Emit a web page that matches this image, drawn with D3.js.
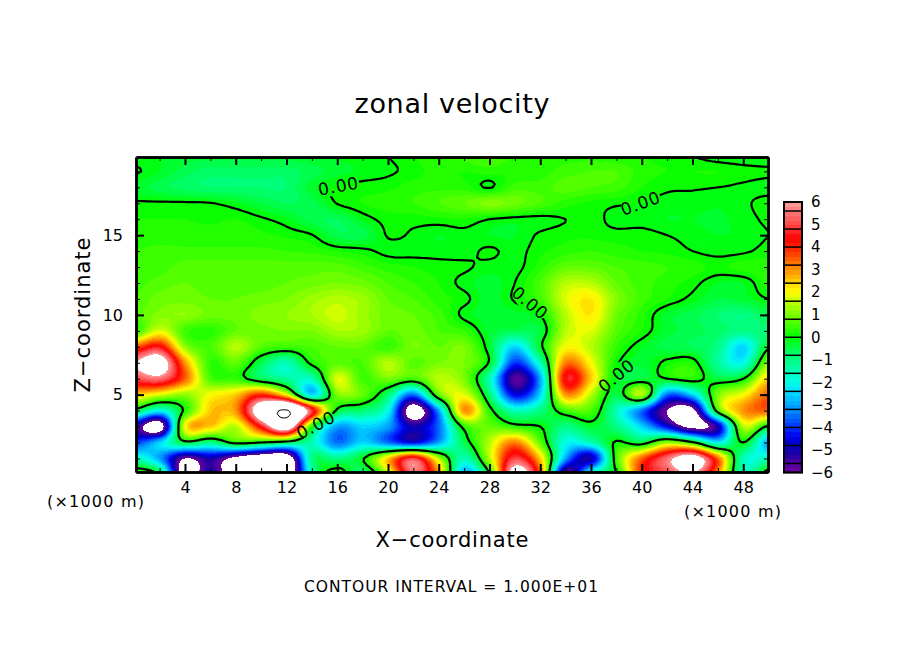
<!DOCTYPE html>
<html><head><meta charset="utf-8">
<script src="https://cdn.jsdelivr.net/npm/d3@7"></script>
<style>
html,body{margin:0;padding:0;background:#fff}
text{font-family:"DejaVu Sans",sans-serif;fill:#000}
</style></head><body>
<svg id="c" width="904" height="654"></svg>
<script>
// grid sampling of the field
const gridX = d3.range(0, 51, 2);           // km/1000
const gridZ = d3.range(0, 21, 1);
// one row per z = 0..20, one value per x = 0,2,..,50
const uRows = [
/*z0*/ [0.8,-0.3,-7,-5,-7.5,-8,-8,-1.5,0.4,-1,1.5,5.5,3,-3,0,7,3.5,-6,-1.5,0,4,5,6,3,-1.5,0.5],
/*z1*/ [-1.5,-3,-6,-5,-6.5,-7.5,-7.5,-1,-1,-0.1,2.5,5,1.5,-1.5,1.5,5,2.5,-3,-5,0.5,3.5,5.5,7,3.5,-1.5,-1.5],
/*z2*/ [-4,-2.5,-0.3,-1,0.3,0,-0.5,-1.5,-3.5,-2.5,-3.5,-4.5,-3,-0.5,1.5,3.2,0.8,-2,-1.5,0.1,-0.4,1.2,0.2,-2.2,0,-3],
/*z3*/ [-5,-7,2,2.5,1.5,4.5,7.5,0.2,-3,-2.5,-3,-5,-3.5,0.3,0.8,0.3,0,-1,-0.3,-1,-2.5,-4.5,-6.5,-5,1.5,-0.2],
/*z4*/ [-0.3,-2,0.2,2.5,3,7.5,10.2,5,-0.2,-0.8,-2,-7,-3,3,0.3,-1.5,-1,0.5,0.6,-1.5,-3.5,-6,-6.5,0.5,3,3.5],
/*z5*/ [2.5,1.8,1.2,2,2.5,4,2,-2.5,1,0.8,-0.8,-3.5,0.8,1.8,-0.8,-4.5,-2.5,3,1.5,-0.5,1.5,-3.5,-2.5,1,2,3.5],
/*z6*/ [5,5.5,3.5,0.6,0.4,-0.6,-1.2,-1.5,1.8,0.5,1,0.5,1.5,1,-1.5,-5.7,-3,4.5,2.5,-0.2,-0.4,0,0.3,-0.4,0,2.5],
/*z7*/ [6,7,3,0.4,0.8,-0.5,-1.5,0.2,0.7,0.6,1.5,0.7,1,1,-0.1,-4,-1.5,3.2,2,0.1,-0.3,0.1,0.2,-1.2,-2,1.2],
/*z8*/ [3.5,4.5,1.2,0.6,1.5,0.7,0.5,0.6,0.8,0.8,0.4,1,0.8,1,-0.3,-2.5,-0.2,2,1.5,0.4,-0.2,-0.5,-0.6,-1,-2.5,-0.1],
/*z9*/ [0.3,1.8,0.5,0.3,0.8,0.9,1,1,1.4,1.3,0.8,0.9,0.6,0.4,-0.3,-0.5,-0.4,1.5,1.8,0.7,0.2,-0.3,-0.5,-0.7,-1,-0.8],
/*z10*/[0.7,1.1,1.2,0.9,0.9,1.1,1.2,1.4,1.7,1.3,0.9,0.8,0.5,-0.1,-0.3,-0.3,0,1.5,2.2,0.9,0.3,-0.3,-0.5,-0.8,-1,-0.5],
/*z11*/[0.6,0.9,0.9,0.8,0.8,0.9,1,1.3,1.5,1.3,0.8,0.6,0.3,0.1,-0.3,0.05,0.5,1.8,2.2,1.1,0.5,0.2,-0.1,-0.4,-0.3,0],
/*z12*/[0.5,0.7,0.8,0.7,0.7,0.7,0.8,0.9,1,0.9,0.6,0.4,0.2,-0.1,-0.3,0,0.6,1.5,1.5,0.8,0.5,0.3,0.1,-0.2,-0.2,0.3],
/*z13*/[0.4,0.5,0.7,0.7,0.7,0.7,0.7,0.7,0.7,0.5,0.3,0.2,0.1,0.05,-0.1,-0.1,0.3,0.8,0.8,0.6,0.5,0.4,0.3,0.15,0.3,0.3],
/*z14*/[0.4,0.45,0.45,0.45,0.45,0.45,0.4,0.35,0.2,0.1,-0.1,-0.1,-0.1,-0.1,0.05,-0.1,0.15,0.3,0.4,0.3,0.2,0.15,0,-0.1,-0.05,0.1],
/*z15*/[0.3,0.3,0.3,0.3,0.3,0.25,0.15,0.02,-0.5,-0.5,0.03,-0.05,-0.2,-0.1,-0.2,-0.2,0.05,0.15,0.15,0.1,0.1,0,-0.1,-0.2,-0.15,0],
/*z16*/[0.2,0.2,0.2,0.15,0.2,0.05,-0.15,-0.5,-0.6,-0.15,0.1,0.1,0.15,0.2,0,-0.1,-0.1,0,0.1,-0.1,-0.1,-0.2,-0.2,-0.25,-0.1,0.05],
/*z17*/[0.05,0.05,0.05,0.02,-0.15,-0.4,-0.6,-0.5,0.02,0.2,0.3,0.4,0.6,0.8,1.1,0.9,0.6,0.3,0.15,0.05,0,-0.1,-0.1,-0.15,-0.05,0.1],
/*z18*/[-0.3,-0.5,-0.7,-0.8,-0.8,-0.8,-0.8,-0.25,0.05,0.1,0.15,0.3,0.35,0.3,-0.03,0.5,0.5,0.7,0.6,0.5,0.2,0.05,0.03,0,-0.05,-0.1],
/*z19*/[0.05,-0.2,-0.5,-0.7,-0.7,-0.7,-0.7,-0.5,-0.3,-0.15,-0.05,0.1,0.3,0.2,0.3,0.2,0.3,0.5,0.6,0.6,0.3,0.2,0.2,0.2,0.1,0.05],
/*z20*/[-0.2,-0.2,-0.3,-0.3,-0.3,-0.3,-0.3,-0.2,-0.15,-0.1,0,0.2,0.4,0.5,0.7,0.4,0.4,0.3,0.3,0.2,0.2,0.1,0,-0.15,-0.2,-0.2]
];
const xTicksMajor = d3.range(4, 49, 4);
const xTicksMinor = d3.range(2, 50, 2);
const zTicksMajor = [5, 10, 15];
const zTicksMinor = d3.range(1, 20, 1);
const barTicks = d3.range(-6, 7, 1);
const barEdges = [-6,-5.6,-4.8,-4,-3.2,-2.4,-1.6,-0.8,0,0.8,1.6,2.4,3.2,4,4.8,5.6,6];
const colorStops = [-6,-5.6,-5.2,-4.8,-4.4,-4,-3.6,-3.2,-2.8,-2.4,-2,-1.6,-1.2,-0.8,-0.4,0,0.4,0.8,1.2,1.6,2,2.4,2.8,3.2,3.6,4,4.4,4.8,5.2,5.6,6];
const colorVals = ["#7000a0","#5000a0","#2000a0","#0000c0","#0000f0","#0030ff","#0060ff","#0090ff","#00b8ff","#00e0ff","#00ffe8","#00ffc0","#00ff98","#00ff70","#00ff40","#00ff00","#30ff00","#60ff00","#90ff00","#c0ff00","#ffff00","#ffd800","#ffa800","#ff8000","#ff5000","#ff2000","#ff0000","#ff3030","#ff5858","#ff7878","#ffa0a0"];
const step = 0.2;
const levels = d3.range(-6, 6.001, step).map(v => +v.toFixed(2));
const labelSpots = [
  {x:16.1,z:18.08,a:-10},{x:39.9,z:17.0,a:-20},{x:31.2,z:10.75,a:40},{x:38.0,z:6.2,a:-40},{x:14.3,z:3.1,a:-27}
];
const labelText = "0.00";

const svg = d3.select("#c");
const x = d3.scaleLinear().domain([0.14,49.95]).range([136,768]);
const z = d3.scaleLinear().domain([0.15,19.9]).range([472,157]);
const color = d3.scaleLinear().domain(colorStops).range(colorVals).interpolate(d3.interpolateRgb);

// resample the read values for drawing (Catmull-Rom)
const cr=(a,b,c,d,t)=>0.5*((2*b)+(-a+c)*t+(2*a-5*b+4*c-d)*t*t+(-a+3*b-3*c+d)*t*t*t);
const fx=8, fz=5; // samples per grid cell
const nx=(gridX.length-1)*fx+1, nz=(gridZ.length-1)*fz+1;
const at=(r,c)=>uRows[Math.max(0,Math.min(gridZ.length-1,r))][Math.max(0,Math.min(gridX.length-1,c))];
const field=new Float64Array(nx*nz);
for(let j=0;j<nz;j++){
  const r=Math.floor(j/fz), tz=j/fz-r;
  for(let i=0;i<nx;i++){
    const c=Math.floor(i/fx), tx=i/fx-c;
    const col=[-1,0,1,2].map(k=>cr(at(r+k,c-1),at(r+k,c),at(r+k,c+1),at(r+k,c+2),tx));
    field[j*nx+i]=cr(col[0],col[1],col[2],col[3],tz);
  }
}
const cont=d3.contours().size([nx,nz]).smooth(true);
const px=d=>x((d-0.5)*2/fx), pz=d=>z((d-0.5)/fz);
const tr=d3.geoTransform({point(a,b){this.stream.point(px(a),pz(b));}});
const path=d3.geoPath(tr);

const defs=svg.append("defs");
defs.append("clipPath").attr("id","plot").append("rect")
  .attr("x",x.range()[0]).attr("y",z.range()[1]).attr("width",632).attr("height",315);
const mask=defs.append("mask").attr("id","gaps").attr("maskUnits","userSpaceOnUse")
  .attr("x",0).attr("y",0).attr("width",904).attr("height",654);
mask.append("rect").attr("width",904).attr("height",654).attr("fill","#fff");
mask.selectAll("ellipse").data(labelSpots).join("ellipse")
  .attr("rx",21).attr("ry",10).attr("fill","#000")
  .attr("transform",d=>`translate(${x(d.x)},${z(d.z)}) rotate(${d.a})`);

const g=svg.append("g").attr("clip-path","url(#plot)");
g.append("rect").attr("x",136).attr("y",157).attr("width",632).attr("height",315).attr("fill","#fff");
g.selectAll("path.f").data(levels.slice(0,-1).map(l=>({l,c:cont.contour(field,l)}))).join("path")
  .attr("class","f").attr("d",d=>path(d.c)).attr("fill",d=>color(d.l+step/2)).attr("shape-rendering","crispEdges");
// regions above the top level go back to white
g.append("path").attr("d",path(cont.contour(field,6))).attr("fill","#fff").attr("shape-rendering","crispEdges");
// contour lines
g.append("path").attr("d",path(cont.contour(field,10))).attr("fill","none").attr("stroke","#000").attr("stroke-width",1);
g.append("g").attr("mask","url(#gaps)").append("path").attr("d",path(cont.contour(field,0)))
  .attr("fill","none").attr("stroke","#000").attr("stroke-width",2.2).attr("stroke-linejoin","round");
// labels
svg.selectAll("text.lab").data(labelSpots).join("text").attr("class","lab")
  .attr("transform",d=>`translate(${x(d.x)},${z(d.z)}) rotate(${d.a})`)
  .attr("text-anchor","middle").attr("dy","0.36em").attr("font-size",17).attr("letter-spacing",0.8).text(labelText);

// axes
const style=(s,w)=>{s.selectAll(".tick line").attr("stroke","#000").attr("stroke-width",w);
  s.selectAll(".domain").attr("stroke","#000").attr("stroke-width",2.5);
  s.selectAll("text").attr("fill","#000").attr("font-size",16).attr("font-family",'"DejaVu Sans",sans-serif');};
const ax=(fn,scale,ticks,len,pos,lab)=>{
  const a=fn(scale).tickValues(ticks).tickSize(len).tickSizeOuter(0).tickPadding(lab?(fn===d3.axisBottom?10:13):0)
    .tickFormat(lab?d3.format("d"):"");
  const s=svg.append("g").attr("transform",pos).call(a);
  s.selectAll("text").filter(function(){return !lab;}).remove();
  style(s,len===-8||len===8?2:1);
  return s;
};
ax(d3.axisBottom,x,xTicksMinor,-4,"translate(0,472)",false);
ax(d3.axisTop,x,xTicksMinor,-4,"translate(0,157)",false);
ax(d3.axisLeft,z,zTicksMinor,-4,"translate(136,0)",false);
ax(d3.axisRight,z,zTicksMinor,-4,"translate(768,0)",false);
ax(d3.axisBottom,x,xTicksMajor,-8,"translate(0,472)",true);
ax(d3.axisTop,x,xTicksMajor,-8,"translate(0,157)",false);
ax(d3.axisLeft,z,zTicksMajor,-8,"translate(136,0)",true);
ax(d3.axisRight,z,zTicksMajor,-8,"translate(768,0)",false);

// colour bar
const by=d3.scaleLinear().domain([-6,6]).range([472.5,202]);
const bar=svg.append("g");
const fine=d3.range(-6,5.999,0.2).map(v=>+v.toFixed(2));
bar.selectAll("rect.s").data(fine).join("rect").attr("class","s")
  .attr("x",784).attr("width",18).attr("y",d=>by(d+0.2)).attr("height",by(-6)-by(-5.8)+0.5)
  .attr("fill",d=>color(d+0.1)).attr("shape-rendering","crispEdges");
bar.selectAll("line.e").data(barEdges).join("line").attr("class","e")
  .attr("x1",783).attr("x2",803).attr("y1",d=>by(d)).attr("y2",d=>by(d))
  .attr("stroke","#000").attr("stroke-width",1.5);
bar.append("rect").attr("x",784).attr("y",202).attr("width",18).attr("height",270.5)
  .attr("fill","none").attr("stroke","#000").attr("stroke-width",2);
const ba=svg.append("g").attr("transform","translate(802,0)")
  .call(d3.axisRight(by).tickValues(barTicks).tickSize(0).tickPadding(9).tickFormat(d3.format("d")));
ba.select(".domain").remove();
ba.selectAll("text").attr("fill","#000").attr("font-size",15).attr("font-family",'"DejaVu Sans",sans-serif');

// texts
const T=(t,xx,yy,size,len,rot)=>svg.append("text").text(t).attr("font-size",size)
  .attr("text-anchor","middle").attr("textLength",len).attr("lengthAdjust","spacing")
  .attr("transform",`translate(${xx},${yy})`+(rot?` rotate(${rot})`:""));
T("zonal velocity",452,113,27,195);
T("X\u2212coordinate",452,547,21,153);
T("Z\u2212coordinate",90,315,21,155,-90);
T("(\u00d71000 m)",95.5,507,16,97);
T("(\u00d71000 m)",732.5,517,16,97);
T("CONTOUR INTERVAL = 1.000E+01",451,592,15.5,294);
</script></body></html>
